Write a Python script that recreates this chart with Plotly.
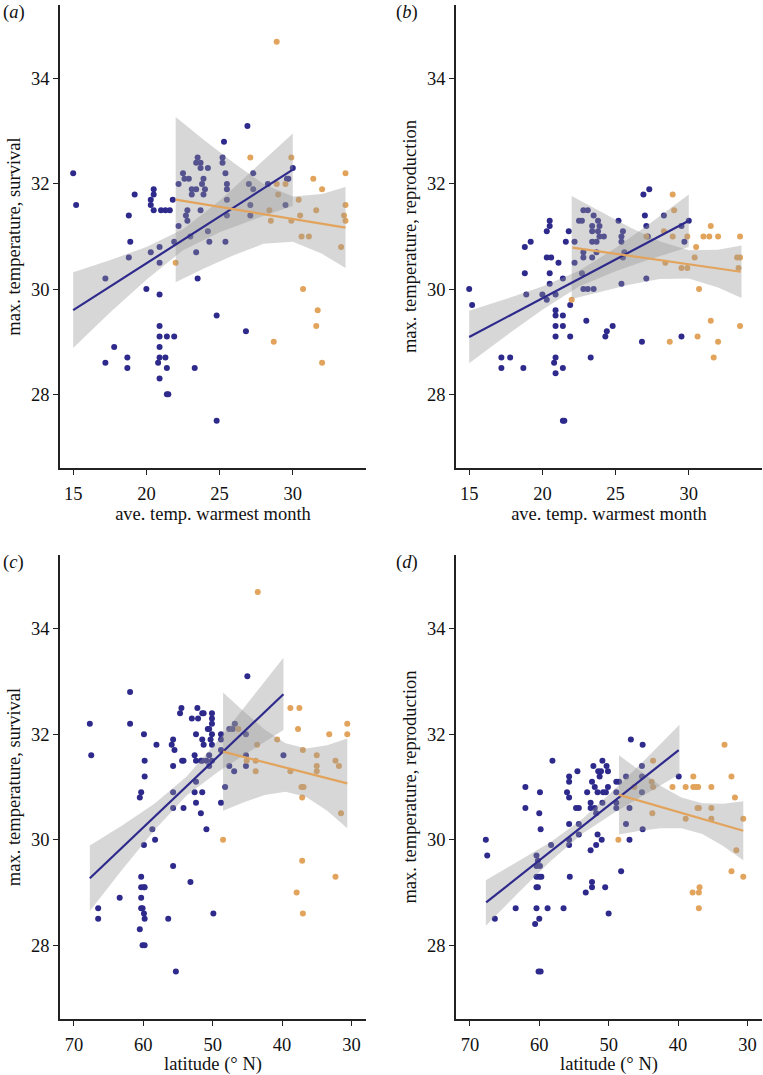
import plotly.graph_objects as go

# ---------------- data ----------------
# Panel (a): max. temperature, survival vs ave. temp. warmest month
a_blue_x = [15.0, 15.2, 17.2, 17.2, 17.8, 18.7, 18.7, 18.8, 18.9, 18.8, 19.2, 20.0, 20.3, 20.3, 20.5, 20.5, 20.5, 20.3,
            20.9, 20.9, 20.9, 20.9, 20.9, 20.9, 20.9, 20.8, 20.9, 21.0, 21.3, 21.6, 21.8, 21.4, 21.9, 21.3, 21.4, 21.4,
            21.5, 21.9, 22.2, 22.2, 22.5, 22.6, 22.9, 22.7, 22.8, 22.8, 23.1, 23.1, 23.4, 23.5, 23.4, 23.7, 23.7, 24.2,
            23.9, 23.8, 24.0, 23.9, 23.7, 23.0, 23.4, 24.2, 24.3, 23.5, 24.8, 24.8, 23.3, 25.2, 25.2, 25.3, 25.4, 25.5,
            25.5, 25.5, 25.5, 25.4, 26.9, 26.8, 27.0, 27.3, 27.3, 27.1, 27.1, 28.3, 29.6, 29.7, 29.5, 30.0]
a_blue_y = [32.2, 31.6, 30.2, 28.6, 28.9, 28.7, 28.5, 31.4, 30.9, 30.6, 31.8, 30.0, 31.7, 31.6, 31.9, 31.8, 31.5, 30.7,
            30.8, 30.5, 29.9, 29.3, 29.1, 28.9, 28.7, 28.6, 28.3, 31.5, 31.5, 31.5, 31.7, 29.1, 29.1, 28.7, 28.5, 28.0,
            28.0, 30.9, 32.0, 31.2, 32.2, 32.1, 32.1, 31.4, 31.5, 31.3, 31.9, 31.8, 31.9, 32.5, 32.4, 32.4, 32.3, 32.3,
            32.1, 32.0, 31.9, 31.8, 31.5, 31.0, 30.7, 31.1, 30.9, 30.2, 29.5, 27.5, 28.5, 32.5, 32.4, 32.8, 32.2, 32.0,
            31.9, 31.7, 31.4, 30.9, 33.1, 29.2, 32.0, 32.2, 31.9, 31.6, 31.4, 32.0, 32.1, 32.1, 31.6, 32.3]
a_orange_x = [28.9, 27.1, 29.9, 28.9, 29.5, 29.0, 28.4, 28.5, 29.9, 30.4, 30.5, 30.6, 31.1, 31.6, 31.4, 32.0, 33.6,
              33.6, 33.5, 33.6, 33.3, 22.0, 30.7, 31.7, 31.6, 28.7, 32.0]
a_orange_y = [34.7, 32.5, 32.5, 32.0, 32.0, 31.8, 31.5, 31.3, 31.3, 31.7, 31.4, 31.0, 31.0, 31.5, 32.1, 31.9, 32.2,
              31.6, 31.4, 31.3, 30.8, 30.5, 30.0, 29.6, 29.3, 29.0, 28.6]
a_blue_fit_x = [15.0, 30.0]
a_blue_fit_y = [29.6, 32.27]
a_blue_band_x = [15.0, 17.5, 20.0, 22.5, 25.0, 27.5, 30.0]
a_blue_band_lo = [28.88, 29.55, 30.18, 30.74, 31.08, 31.34, 31.58]
a_blue_band_hi = [30.32, 30.55, 30.80, 31.14, 31.68, 32.32, 32.96]
a_orange_fit_x = [22.0, 33.6]
a_orange_fit_y = [31.70, 31.17]
a_orange_band_x = [22.0, 24.0, 26.0, 28.0, 30.0, 32.0, 33.6]
a_orange_band_lo = [30.13, 30.40, 30.65, 30.86, 30.90, 30.67, 30.40]
a_orange_band_hi = [33.27, 32.82, 32.39, 32.00, 31.76, 31.81, 31.94]

# Panel (b): max. temperature, reproduction vs ave. temp. warmest month
b_blue_x = [15.0, 15.2, 17.2, 17.2, 17.8, 18.7, 18.8, 19.2, 18.8, 18.9, 20.0, 20.3, 20.5, 20.5, 20.3, 20.3, 20.6, 20.5,
            20.5, 20.9, 21.1, 21.4, 20.9, 20.9, 21.4, 20.9, 21.4, 20.9, 20.9, 20.8, 21.4, 20.9, 21.4, 21.5, 21.6, 21.8,
            21.9, 21.9, 22.2, 22.2, 22.5, 22.7, 22.8, 23.1, 22.8, 22.8, 22.7, 22.8, 23.1, 23.5, 23.0, 23.3, 23.4, 23.4,
            23.5, 23.4, 23.4, 23.7, 23.7, 23.8, 23.9, 23.9, 24.2, 23.8, 24.3, 24.4, 24.8, 25.2, 25.4, 25.5, 25.4, 25.5,
            25.6, 25.4, 26.8, 26.9, 27.3, 27.0, 27.1, 27.2, 27.1, 28.3, 29.5, 29.7, 29.5, 30.0]
b_blue_y = [30.0, 29.7, 28.7, 28.5, 28.7, 28.5, 30.8, 30.9, 30.3, 29.9, 29.9, 29.8, 31.3, 31.2, 31.1, 30.6, 30.6, 30.3,
            30.1, 29.9, 30.5, 30.2, 29.6, 29.5, 29.5, 29.3, 29.3, 29.1, 28.7, 28.6, 28.5, 28.4, 27.5, 27.5, 30.9, 31.1,
            29.7, 29.1, 30.9, 30.5, 31.3, 31.3, 31.5, 31.5, 30.7, 30.6, 30.3, 30.0, 30.0, 30.0, 29.4, 28.7, 31.2, 31.1,
            31.4, 30.9, 30.6, 30.9, 30.7, 31.3, 31.2, 31.0, 31.0, 31.1, 29.1, 29.2, 29.3, 31.3, 31.0, 31.1, 30.9, 30.6,
            30.7, 30.1, 29.0, 31.8, 31.9, 31.4, 31.2, 31.0, 30.2, 31.4, 31.2, 30.9, 29.1, 31.3]
b_orange_x = [22.0, 28.9, 29.0, 28.3, 28.9, 29.9, 28.4, 29.5, 29.9, 30.5, 30.4, 30.7, 31.0, 31.4, 31.5, 32.0, 33.5,
              33.3, 33.5, 33.4, 33.5, 31.5, 30.6, 28.7, 32.0, 31.7, 27.1]
b_orange_y = [29.8, 31.8, 31.5, 31.1, 31.0, 31.0, 30.5, 30.4, 30.4, 30.8, 30.6, 30.0, 31.0, 31.0, 31.2, 31.0, 31.0,
              30.6, 30.6, 30.4, 29.3, 29.4, 29.1, 29.0, 29.0, 28.7, 31.0]
b_blue_fit_x = [15.0, 30.0]
b_blue_fit_y = [29.09, 31.30]
b_blue_band_x = [15.0, 17.5, 20.0, 22.5, 25.0, 27.5, 30.0]
b_blue_band_lo = [28.59, 29.11, 29.61, 30.05, 30.34, 30.58, 30.80]
b_blue_band_hi = [29.59, 29.81, 30.05, 30.35, 30.78, 31.28, 31.80]
b_orange_fit_x = [22.05, 33.55]
b_orange_fit_y = [30.79, 30.33]
b_orange_band_x = [22.0, 24.0, 26.0, 28.0, 30.0, 32.0, 33.6]
b_orange_band_lo = [29.81, 29.95, 30.09, 30.19, 30.20, 30.03, 29.83]
b_orange_band_hi = [31.77, 31.47, 31.17, 30.91, 30.74, 30.75, 30.83]

# Panel (c): max. temperature, survival vs latitude
c_blue_x = [67.7, 67.5, 66.5, 66.5, 63.4, 61.9, 61.9, 59.9, 60.3, 60.5, 59.8, 59.8, 59.9, 58.7, 58.3, 58.1, 60.3, 60.3,
            59.9, 59.8, 60.3, 60.3, 60.1, 59.9, 59.8, 60.5, 60.1, 59.8, 55.3, 56.4, 55.7, 53.2, 49.9, 55.7, 55.7, 54.2,
            55.9, 55.7, 55.5, 55.7, 54.5, 54.7, 54.4, 54.2, 53.0, 52.2, 52.1, 51.5, 51.3, 52.4, 52.6, 52.4, 51.5, 51.3,
            51.7, 51.5, 50.9, 50.5, 50.7, 50.5, 50.1, 50.1, 50.1, 50.1, 50.1, 50.3, 50.1, 50.5, 52.4, 52.6, 51.5, 52.4,
            51.7, 50.9, 48.8, 48.8, 48.8, 48.8, 48.2, 47.6, 47.1, 46.8, 47.6, 46.9, 45.0, 45.2, 45.2, 45.2, 39.8]
c_blue_y = [32.2, 31.6, 28.7, 28.5, 28.9, 32.8, 32.2, 32.0, 30.9, 30.8, 31.5, 31.2, 29.9, 30.2, 30.0, 31.8, 29.3, 29.1,
            29.1, 29.1, 28.9, 28.7, 28.7, 28.6, 28.5, 28.3, 28.0, 28.0, 27.5, 28.5, 29.5, 29.2, 28.6, 30.9, 30.6, 30.6,
            31.8, 31.9, 31.7, 31.4, 32.5, 32.4, 31.5, 31.5, 32.3, 32.5, 32.3, 32.4, 32.4, 32.0, 31.6, 31.5, 31.9, 31.8,
            31.5, 31.5, 31.5, 31.6, 32.1, 32.1, 32.4, 32.3, 32.2, 32.0, 31.8, 31.9, 31.5, 31.4, 31.1, 30.9, 30.9, 30.7,
            30.5, 30.2, 32.0, 31.9, 31.7, 30.7, 31.0, 32.1, 32.1, 32.2, 31.4, 31.3, 33.1, 32.0, 31.6, 31.4, 31.6]
c_orange_x = [43.5, 38.8, 37.5, 37.7, 30.6, 30.6, 33.2, 40.7, 46.3, 43.6, 43.8, 43.8, 45.1, 38.8, 37.0, 35.0, 35.0,
              35.0, 32.3, 31.8, 37.2, 36.9, 37.1, 31.5, 48.5, 37.1, 37.9, 37.0, 32.3]
c_orange_y = [34.7, 32.5, 32.5, 32.1, 32.2, 32.0, 32.0, 31.9, 32.1, 31.8, 31.5, 31.3, 31.5, 31.3, 31.7, 31.6, 31.4,
              31.3, 31.5, 31.4, 31.0, 31.0, 30.8, 30.5, 30.0, 29.6, 29.0, 28.6, 29.3]
c_blue_fit_x = [67.7, 39.8]
c_blue_fit_y = [29.27, 32.76]
c_blue_band_x = [67.7, 63.05, 58.4, 53.75, 49.1, 44.45, 39.8]
c_blue_band_lo = [28.65, 29.43, 30.18, 30.84, 31.30, 31.69, 32.08]
c_blue_band_hi = [29.89, 30.27, 30.68, 31.20, 31.90, 32.67, 33.45]
c_orange_fit_x = [48.5, 30.6]
c_orange_fit_y = [31.67, 31.07]
c_orange_band_x = [48.5, 45.5, 42.5, 39.5, 36.5, 33.5, 30.6]
c_orange_band_lo = [30.55, 30.71, 30.85, 30.91, 30.81, 30.55, 30.22]
c_orange_band_hi = [32.79, 32.43, 32.09, 31.83, 31.73, 31.79, 31.92]

# Panel (d): max. temperature, reproduction vs latitude
d_blue_x = [67.7, 67.5, 66.4, 63.4, 62.0, 62.0, 60.0, 59.9, 59.8, 60.4, 60.2, 60.4, 59.9, 60.4, 60.0, 59.7, 60.4, 60.2,
            60.4, 60.0, 60.6, 58.8, 56.5, 59.8, 60.1, 58.3, 58.1, 56.0, 55.7, 55.7, 55.7, 55.7, 55.7, 55.7, 55.6, 54.5,
            54.7, 54.3, 54.3, 54.3, 53.3, 53.1, 52.6, 52.6, 52.4, 52.2, 52.0, 52.0, 51.8, 51.6, 51.5, 51.3, 51.1, 50.9,
            50.9, 50.1, 50.3, 50.8, 50.4, 50.1, 51.6, 51.8, 51.0, 52.6, 52.4, 52.4, 50.5, 50.0, 48.9, 48.5, 48.9, 48.9,
            48.9, 48.2, 47.5, 47.5, 47.0, 47.0, 46.8, 45.1, 45.2, 45.2, 45.2, 45.1, 39.9]
d_blue_y = [30.0, 29.7, 28.5, 28.7, 31.0, 30.6, 30.5, 30.9, 30.2, 29.7, 29.6, 29.5, 29.5, 29.3, 29.3, 29.3, 29.1, 29.1,
            28.7, 28.5, 28.4, 28.7, 28.7, 27.5, 27.5, 29.9, 31.5, 30.9, 30.8, 31.2, 31.1, 30.3, 30.0, 29.9, 29.3, 31.3,
            30.6, 30.6, 30.3, 30.1, 29.0, 30.9, 30.6, 30.7, 31.1, 31.4, 31.0, 30.6, 30.5, 30.9, 31.3, 31.2, 31.3, 31.5,
            30.7, 31.3, 31.4, 30.9, 30.9, 31.0, 30.1, 29.9, 30.0, 29.8, 29.2, 29.1, 29.1, 28.6, 31.1, 31.1, 30.9, 30.7,
            30.6, 29.4, 31.2, 30.3, 30.6, 30.0, 31.9, 31.8, 31.4, 31.2, 30.9, 30.2, 31.2]
d_orange_x = [48.6, 46.3, 43.6, 43.8, 43.6, 43.7, 40.8, 38.9, 37.8, 37.8, 37.4, 37.1, 38.9, 37.2, 37.0, 35.2, 35.2,
              35.2, 33.3, 32.3, 31.8, 30.6, 31.6, 32.3, 30.6, 37.9, 37.0, 36.9, 37.0]
d_orange_y = [30.0, 31.0, 31.5, 31.1, 31.0, 30.5, 31.0, 31.0, 31.2, 31.0, 31.0, 31.0, 30.4, 30.6, 30.6, 31.0, 30.6,
              30.4, 31.8, 31.2, 30.8, 30.4, 29.8, 29.4, 29.3, 29.0, 29.0, 29.1, 28.7]
d_blue_fit_x = [67.65, 39.9]
d_blue_fit_y = [28.81, 31.70]
d_blue_band_x = [67.7, 63.05, 58.4, 53.75, 49.1, 44.45, 39.8]
d_blue_band_lo = [28.37, 28.99, 29.59, 30.12, 30.52, 30.88, 31.24]
d_blue_band_hi = [29.23, 29.59, 29.95, 30.40, 30.96, 31.56, 32.18]
d_orange_fit_x = [48.5, 30.6]
d_orange_fit_y = [30.85, 30.17]
d_orange_band_x = [48.5, 45.5, 42.5, 39.5, 36.5, 33.5, 30.6]
d_orange_band_lo = [30.10, 30.17, 30.22, 30.22, 30.11, 29.88, 29.61]
d_orange_band_hi = [31.60, 31.31, 31.02, 30.80, 30.69, 30.68, 30.73]

panel_labels = ["a", "b", "c", "d"]
x_titles = ["ave. temp. warmest month", "ave. temp. warmest month", "latitude (° N)", "latitude (° N)"]
y_titles = ["max. temperature, survival", "max. temperature, reproduction",
            "max. temperature, survival", "max. temperature, reproduction"]
temp_ticks = [15, 20, 25, 30]
lat_ticks = [70, 60, 50, 40, 30]
y_ticks = [28, 30, 32, 34]

# ---------------- styling ----------------
BLUE = "#2e2a8c"
ORANGE = "#e2a45c"
BAND = "rgba(150,150,150,0.38)"
FONT = "Liberation Serif"
FS = 18.5
W, H = 763, 1075

panels = {
    "a": (a_blue_x, a_blue_y, a_orange_x, a_orange_y, a_blue_fit_x, a_blue_fit_y, a_blue_band_x, a_blue_band_lo,
          a_blue_band_hi, a_orange_fit_x, a_orange_fit_y, a_orange_band_x, a_orange_band_lo, a_orange_band_hi),
    "b": (b_blue_x, b_blue_y, b_orange_x, b_orange_y, b_blue_fit_x, b_blue_fit_y, b_blue_band_x, b_blue_band_lo,
          b_blue_band_hi, b_orange_fit_x, b_orange_fit_y, b_orange_band_x, b_orange_band_lo, b_orange_band_hi),
    "c": (c_blue_x, c_blue_y, c_orange_x, c_orange_y, c_blue_fit_x, c_blue_fit_y, c_blue_band_x, c_blue_band_lo,
          c_blue_band_hi, c_orange_fit_x, c_orange_fit_y, c_orange_band_x, c_orange_band_lo, c_orange_band_hi),
    "d": (d_blue_x, d_blue_y, d_orange_x, d_orange_y, d_blue_fit_x, d_blue_fit_y, d_blue_band_x, d_blue_band_lo,
          d_blue_band_hi, d_orange_fit_x, d_orange_fit_y, d_orange_band_x, d_orange_band_lo, d_orange_band_hi),
}

# pixel layout of each panel: (left, right, top, bottom)
boxes = {"a": (60, 366, 5, 468), "b": (456, 762, 5, 468), "c": (60, 366, 555, 1019), "d": (456, 762, 555, 1019)}

fig = go.Figure()
layout = dict(width=W, height=H, margin=dict(l=0, r=0, t=0, b=0), paper_bgcolor="white", plot_bgcolor="white",
              showlegend=False, font=dict(family=FONT, size=FS, color="#111"))
annotations = []

for i, key in enumerate(panel_labels):
    n = "" if i == 0 else str(i + 1)
    xa, ya = "x" + n, "y" + n
    (bx, by, ox, oy, bfx, bfy, bbx, bblo, bbhi, ofx, ofy, obx, oblo, obhi) = panels[key]
    # points
    fig.add_trace(go.Scatter(x=bx, y=by, mode="markers", marker=dict(size=6, color=BLUE), xaxis=xa, yaxis=ya))
    fig.add_trace(go.Scatter(x=ox, y=oy, mode="markers", marker=dict(size=6, color=ORANGE), xaxis=xa, yaxis=ya))
    # confidence bands
    for bxs, lo, hi in ((bbx, bblo, bbhi), (obx, oblo, obhi)):
        fig.add_trace(go.Scatter(x=list(bxs) + list(bxs)[::-1], y=list(hi) + list(lo)[::-1], mode="lines",
                                 line=dict(width=0), fill="toself", fillcolor=BAND,
                                 hoverinfo="skip", xaxis=xa, yaxis=ya))
    # fit lines
    fig.add_trace(go.Scatter(x=bfx, y=bfy, mode="lines", line=dict(color=BLUE, width=2.2), xaxis=xa, yaxis=ya))
    fig.add_trace(go.Scatter(x=ofx, y=ofy, mode="lines", line=dict(color=ORANGE, width=2.2), xaxis=xa, yaxis=ya))

    l, r, t, b = boxes[key]
    is_lat = key in ("c", "d")
    layout["xaxis" + n] = dict(
        domain=[l / W, r / W], anchor=ya,
        range=[72.0, 27.9] if is_lat else [14.1, 35.0],
        tickvals=lat_ticks if is_lat else temp_ticks,
        showline=True, linecolor="#222", linewidth=1.5, ticks="outside", ticklen=5, tickcolor="#222",
        ticklabelstandoff=3,
        showgrid=False, zeroline=False, tickfont=dict(size=FS, family=FONT, color="#111"),
        title=dict(text=x_titles[i], font=dict(size=FS, family=FONT, color="#111"), standoff=2),
    )
    layout["yaxis" + n] = dict(
        domain=[1 - b / H, 1 - t / H], anchor=xa, range=[26.6, 35.4], tickvals=y_ticks,
        showline=True, linecolor="#222", linewidth=1.5, ticks="outside", ticklen=5, tickcolor="#222",
        showgrid=False, zeroline=False, tickfont=dict(size=FS, family=FONT, color="#111"),
        title=dict(text=y_titles[i], font=dict(size=FS, family=FONT, color="#111"), standoff=6),
    )
    lx = 1 if key in ("a", "c") else 394
    annotations.append(dict(text="(<i>%s</i>)" % key, xref="paper", yref="paper", x=lx / W, y=1 - (t + 7) / H,
                            xanchor="left", yanchor="middle", showarrow=False,
                            font=dict(size=FS, family=FONT, color="#111")))

layout["annotations"] = annotations
fig.update_layout(**layout)
fig.write_html("out.html", config={"displayModeBar": False},
               post_script="document.body.style.margin='0';document.body.style.overflow='hidden';")
